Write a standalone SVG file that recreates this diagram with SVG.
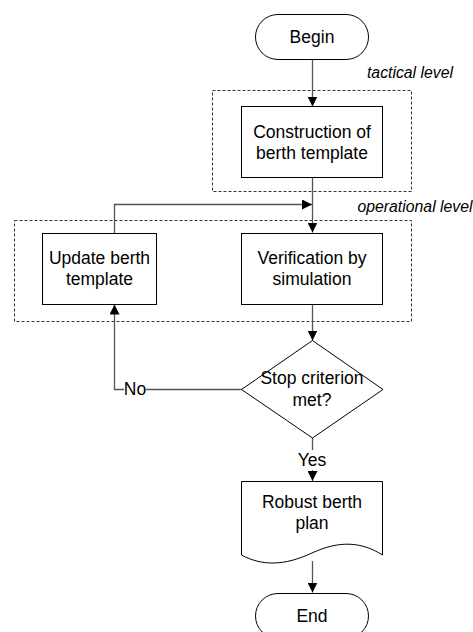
<svg xmlns="http://www.w3.org/2000/svg" width="473" height="632" viewBox="0 0 473 632">
<defs>
<style>
.shape{fill:#fff;stroke:#000;stroke-width:1}
.dash{fill:none;stroke:#333;stroke-width:1;stroke-dasharray:3,2}
.conn{fill:none;stroke:#555;stroke-width:1.3}
text{font-family:"Liberation Sans",Arial,sans-serif;font-size:17.5px;fill:#000;text-anchor:middle}
.lvl{font-style:italic;font-size:15.8px}
</style>
<marker id="ah" viewBox="0 0 10 10" refX="10" refY="5" markerWidth="10" markerHeight="10" markerUnits="userSpaceOnUse" orient="auto">
<path d="M0,0 L10,5 L0,10 Z" fill="#000"/>
</marker>
</defs>
<rect width="473" height="632" fill="#fff"/>
<g id="tactical-box">
<rect class="dash" x="212.5" y="90.5" width="199" height="101"/>
<text class="lvl" x="410" y="78">tactical level</text>
</g>
<g id="operational-box">
<rect class="dash" x="14.5" y="220.5" width="397" height="101"/>
<text class="lvl" x="415" y="212">operational level</text>
</g>
<g id="connectors">
<line class="conn" x1="312.5" y1="59" x2="312.5" y2="106.5" marker-end="url(#ah)"/>
<line class="conn" x1="312.5" y1="177" x2="312.5" y2="232.5" marker-end="url(#ah)"/>
<polyline class="conn" points="114.5,233 114.5,204.5 312,204.5" marker-end="url(#ah)"/>
<line class="conn" x1="312.5" y1="304" x2="312.5" y2="340.5" marker-end="url(#ah)"/>
<polyline class="conn" points="241.5,389.5 146,389.5"/>
<polyline class="conn" points="124,389.5 114.5,389.5 114.5,304.5" marker-end="url(#ah)"/>
<text x="135" y="395">No</text>
<line class="conn" x1="312.5" y1="438" x2="312.5" y2="450"/>
<text x="312" y="466">Yes</text>
<line class="conn" x1="312.5" y1="470" x2="312.5" y2="481" marker-end="url(#ah)"/>
<line class="conn" x1="312.5" y1="561" x2="312.5" y2="592.5" marker-end="url(#ah)"/>
</g>
<g id="begin">
<rect class="shape" x="255.5" y="14.5" width="113" height="45" rx="22.5" ry="22.5"/>
<text x="312" y="43">Begin</text>
</g>
<g id="construction">
<rect class="shape" x="241.5" y="106.5" width="141" height="71"/>
<text x="312" y="138">Construction of</text>
<text x="312" y="159">berth template</text>
</g>
<g id="update">
<rect class="shape" x="42.5" y="233.5" width="114" height="71"/>
<text x="99.5" y="264">Update berth</text>
<text x="99.5" y="285">template</text>
</g>
<g id="verification">
<rect class="shape" x="241.5" y="233.5" width="141" height="71"/>
<text x="312" y="264">Verification by</text>
<text x="312" y="285">simulation</text>
</g>
<g id="stop">
<polygon class="shape" points="312.5,340.5 383,389.5 312.5,438 241.5,389.5"/>
<text x="312" y="384">Stop criterion</text>
<text x="312" y="406">met?</text>
</g>
<g id="robust">
<path class="shape" d="M241.5,481.5 H382.5 V555 C362,542 340,540 312,553 C284,566 262,566 241.5,555 Z"/>
<text x="312" y="508">Robust berth</text>
<text x="312" y="529">plan</text>
</g>
<g id="end">
<rect class="shape" x="255.5" y="593.5" width="113" height="45" rx="22.5" ry="22.5"/>
<text x="312" y="622">End</text>
</g>
</svg>
